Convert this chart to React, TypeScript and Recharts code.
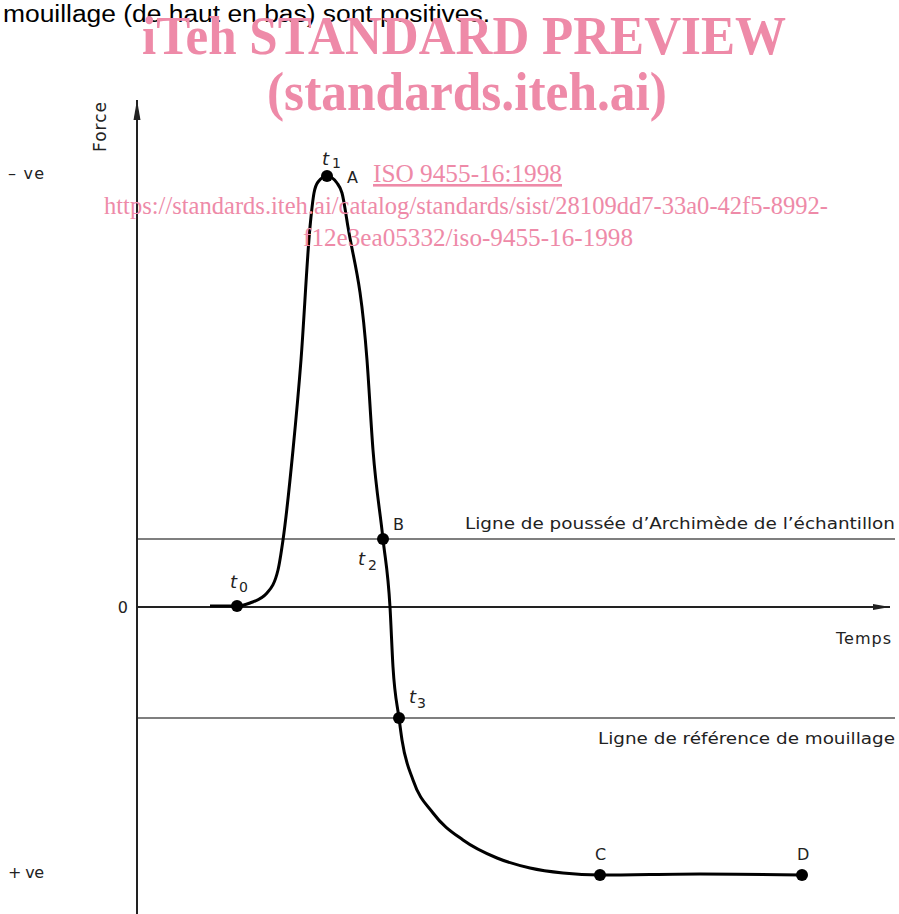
import React from 'react';
import { LineChart, Line, XAxis, YAxis, ReferenceLine, ReferenceDot } from 'recharts';

// curve: time (arbitrary units) vs force (positive = downwards)
const TIME = [7.3, 10.0, 11.3, 13.0, 14.1, 14.6, 15.6, 16.4, 17.3, 17.7, 18.1, 19.0, 20.0, 20.5, 21.1, 23.0, 23.6, 24.6, 25.3, 25.6, 26.2, 26.5, 27.6, 29.6, 32.6, 36.0, 39.3, 42.6, 46.3, 56.3, 66.5];
const FORCE = [-0.1, -0.1, -0.4, -1.4, -3.7, -6.7, -15.7, -24.7, -38.0, -41.4, -42.5, -43.1, -42.4, -41.4, -38.0, -24.7, -15.7, -6.8, 0, 6.0, 11.1, 13.3, 17.3, 20.6, 23.3, 25.1, 26.1, 26.6, 26.8, 26.7, 26.8];

// index of the marked points in the arrays above
const KEY_INDEX: Record<string, number> = { t0: 1, A: 11, B: 17, t3: 20, C: 28, D: 30 };

const BUOYANCY_FORCE = -6.8;
const WETTING_REF_FORCE = 11.1;
const BUOYANCY_LABEL = 'Ligne de poussée d’Archimède de l’échantillon';
const WETTING_LABEL = 'Ligne de référence de mouillage';

const Y_TICKS = [-43.4, 0, 26.5];
const Y_TICK_LABELS = ['– ve', '0', '+ ve'];

const X_DOMAIN = [0, 75.8];
const Y_DOMAIN = [-50.7, 30.7];
const X_AXIS_END = 75.3;

const INK = '#222';
const PINK = '#ee8aa8';
const FONT = '"DejaVu Sans", sans-serif';

const data = TIME.map((t, i) => ({ t, force: FORCE[i] }));

type LabelBit = { text: string; kind: 't' | 'sub' | 'letter'; dx: number; dy: number };

const MARK_LABELS: Record<string, LabelBit[]> = {
  t0: [
    { text: 't', kind: 't', dx: -7, dy: -18 },
    { text: '0', kind: 'sub', dx: 2, dy: -14 },
  ],
  A: [
    { text: 't', kind: 't', dx: -5, dy: -11 },
    { text: '1', kind: 'sub', dx: 5, dy: -8 },
    { text: 'A', kind: 'letter', dx: 20, dy: 7 },
  ],
  B: [
    { text: 'B', kind: 'letter', dx: 10, dy: -9 },
    { text: 't', kind: 't', dx: -25, dy: 26 },
    { text: '2', kind: 'sub', dx: -15, dy: 31 },
  ],
  t3: [
    { text: 't', kind: 't', dx: 10, dy: -15 },
    { text: '3', kind: 'sub', dx: 18, dy: -10 },
  ],
  C: [{ text: 'C', kind: 'letter', dx: -5, dy: -15 }],
  D: [{ text: 'D', kind: 'letter', dx: -5, dy: -15 }],
};

function KeyMark({ cx, cy, id }: any) {
  if (cx == null || cy == null) return <g />;
  return (
    <g>
      <circle cx={cx} cy={cy} r={6} fill="#000" />
      {MARK_LABELS[id].map((b, i) => (
        <text
          key={i}
          x={cx + b.dx}
          y={cy + b.dy}
          fontFamily={FONT}
          fontSize={b.kind === 't' ? 18 : b.kind === 'sub' ? 14 : 16}
          fontStyle={b.kind === 't' ? 'italic' : 'normal'}
          fill={INK}
        >
          {b.text}
        </text>
      ))}
    </g>
  );
}

function YArrow({ cx, cy }: any) {
  if (cx == null || cy == null) return <g />;
  return (
    <g>
      <path d={`M${cx},${cy} L${cx - 3.5},${cy + 20} L${cx + 3.5},${cy + 20} Z`} fill={INK} />
      <text
        x={cx - 37}
        y={cy + 27}
        transform={`rotate(-90 ${cx - 37} ${cy + 27})`}
        textAnchor="middle"
        dy="0.35em"
        fontFamily={FONT}
        fontSize={17}
        fill={INK}
        textLength={50}
      >
        Force
      </text>
    </g>
  );
}

function XArrow({ cx, cy }: any) {
  if (cx == null || cy == null) return <g />;
  return (
    <g>
      <path d={`M${cx},${cy} L${cx - 17},${cy - 3} L${cx - 17},${cy + 3} Z`} fill={INK} />
      <text x={cx + 1} y={cy + 37} textAnchor="end" fontFamily={FONT} fontSize={16} fill={INK} textLength={55}>
        Temps
      </text>
    </g>
  );
}

function YTick({ y, payload }: any) {
  const idx = Y_TICKS.indexOf(payload.value);
  const label = Y_TICK_LABELS[idx] ?? '';
  const isZero = payload.value === 0;
  return (
    <text
      x={isZero ? 128 : 8}
      y={y}
      dy="0.35em"
      textAnchor={isZero ? 'end' : 'start'}
      fontFamily={FONT}
      fontSize={16}
      fill={INK}
      textLength={isZero ? undefined : 36}
    >
      {label}
    </text>
  );
}

function lineLabel(text: string, dy: number, width: number) {
  return (props: any) => {
    const vb = props.viewBox ?? {};
    const right = (vb.x ?? 0) + (vb.width ?? 0);
    return (
      <text
        x={right}
        y={(vb.y ?? 0) + dy}
        textAnchor="end"
        fontFamily={FONT}
        fontSize={16}
        fill={INK}
        textLength={width}
        lengthAdjust="spacingAndGlyphs"
      >
        {text}
      </text>
    );
  };
}

function Watermark() {
  return (
    <svg width={899} height={914} style={{ position: 'absolute', left: 0, top: 0, pointerEvents: 'none' }}>
      <text x={3} y={22} fontFamily='"Liberation Sans", Arial, sans-serif' fontSize={23} fill="#000" textLength={487} lengthAdjust="spacingAndGlyphs">
        mouillage (de haut en bas) sont positives.
      </text>
      <g fill={PINK} fontFamily='"Liberation Serif", "Times New Roman", serif'>
        <text x={142} y={54} fontSize={54} fontWeight="bold" textLength={644} lengthAdjust="spacingAndGlyphs">
          iTeh STANDARD PREVIEW
        </text>
        <text x={267} y={110} fontSize={54} fontWeight="bold" textLength={400} lengthAdjust="spacingAndGlyphs">
          (standards.iteh.ai)
        </text>
        <text x={373} y={182} fontSize={26} textLength={189} lengthAdjust="spacingAndGlyphs" textDecoration="underline">
          ISO 9455-16:1998
        </text>
        <line x1={373} x2={562} y1={185} y2={185} stroke={PINK} strokeWidth={1.5} />
        <text x={104} y={214} fontSize={25} textLength={724} lengthAdjust="spacingAndGlyphs">
          https://standards.iteh.ai/catalog/standards/sist/28109dd7-33a0-42f5-8992-
        </text>
        <text x={303} y={246} fontSize={25} textLength={330} lengthAdjust="spacingAndGlyphs">
          f12e3ea05332/iso-9455-16-1998
        </text>
      </g>
    </svg>
  );
}

export default function App() {
  return (
    <div style={{ position: 'absolute', left: 0, top: 0, width: 899, height: 914, background: '#fff' }}>
      <LineChart width={899} height={914} data={data} margin={{ top: 100, right: 4, bottom: 0, left: 0 }}>
        <XAxis dataKey="t" type="number" domain={X_DOMAIN} allowDataOverflow hide />
        <YAxis
          type="number"
          domain={Y_DOMAIN}
          reversed
          allowDataOverflow
          width={137}
          ticks={Y_TICKS}
          interval={0}
          tickLine={false}
          axisLine={{ stroke: INK, strokeWidth: 2 }}
          tick={(p: any) => <YTick {...p} />}
        />
        <ReferenceLine
          y={BUOYANCY_FORCE}
          stroke="#555"
          strokeWidth={1.3}
          label={{ content: lineLabel(BUOYANCY_LABEL, -10, 430) }}
        />
        <ReferenceLine
          y={WETTING_REF_FORCE}
          stroke="#555"
          strokeWidth={1.3}
          label={{ content: lineLabel(WETTING_LABEL, 26, 297) }}
        />
        <ReferenceLine
          segment={[
            { x: 0, y: 0 },
            { x: X_AXIS_END, y: 0 },
          ]}
          stroke={INK}
          strokeWidth={2}
        />
        <Line
          dataKey="force"
          type="monotoneX"
          stroke="#000"
          strokeWidth={3}
          dot={false}
          activeDot={false}
          isAnimationActive={false}
        />
        <ReferenceDot x={X_AXIS_END} y={0} r={3} shape={(p: any) => <XArrow {...p} />} />
        <ReferenceDot x={0} y={Y_DOMAIN[0]} r={3} ifOverflow="visible" shape={(p: any) => <YArrow {...p} />} />
        {Object.entries(KEY_INDEX).map(([id, i]) => (
          <ReferenceDot key={id} x={TIME[i]} y={FORCE[i]} r={6} shape={(p: any) => <KeyMark {...p} id={id} />} />
        ))}
      </LineChart>
      <Watermark />
    </div>
  );
}
